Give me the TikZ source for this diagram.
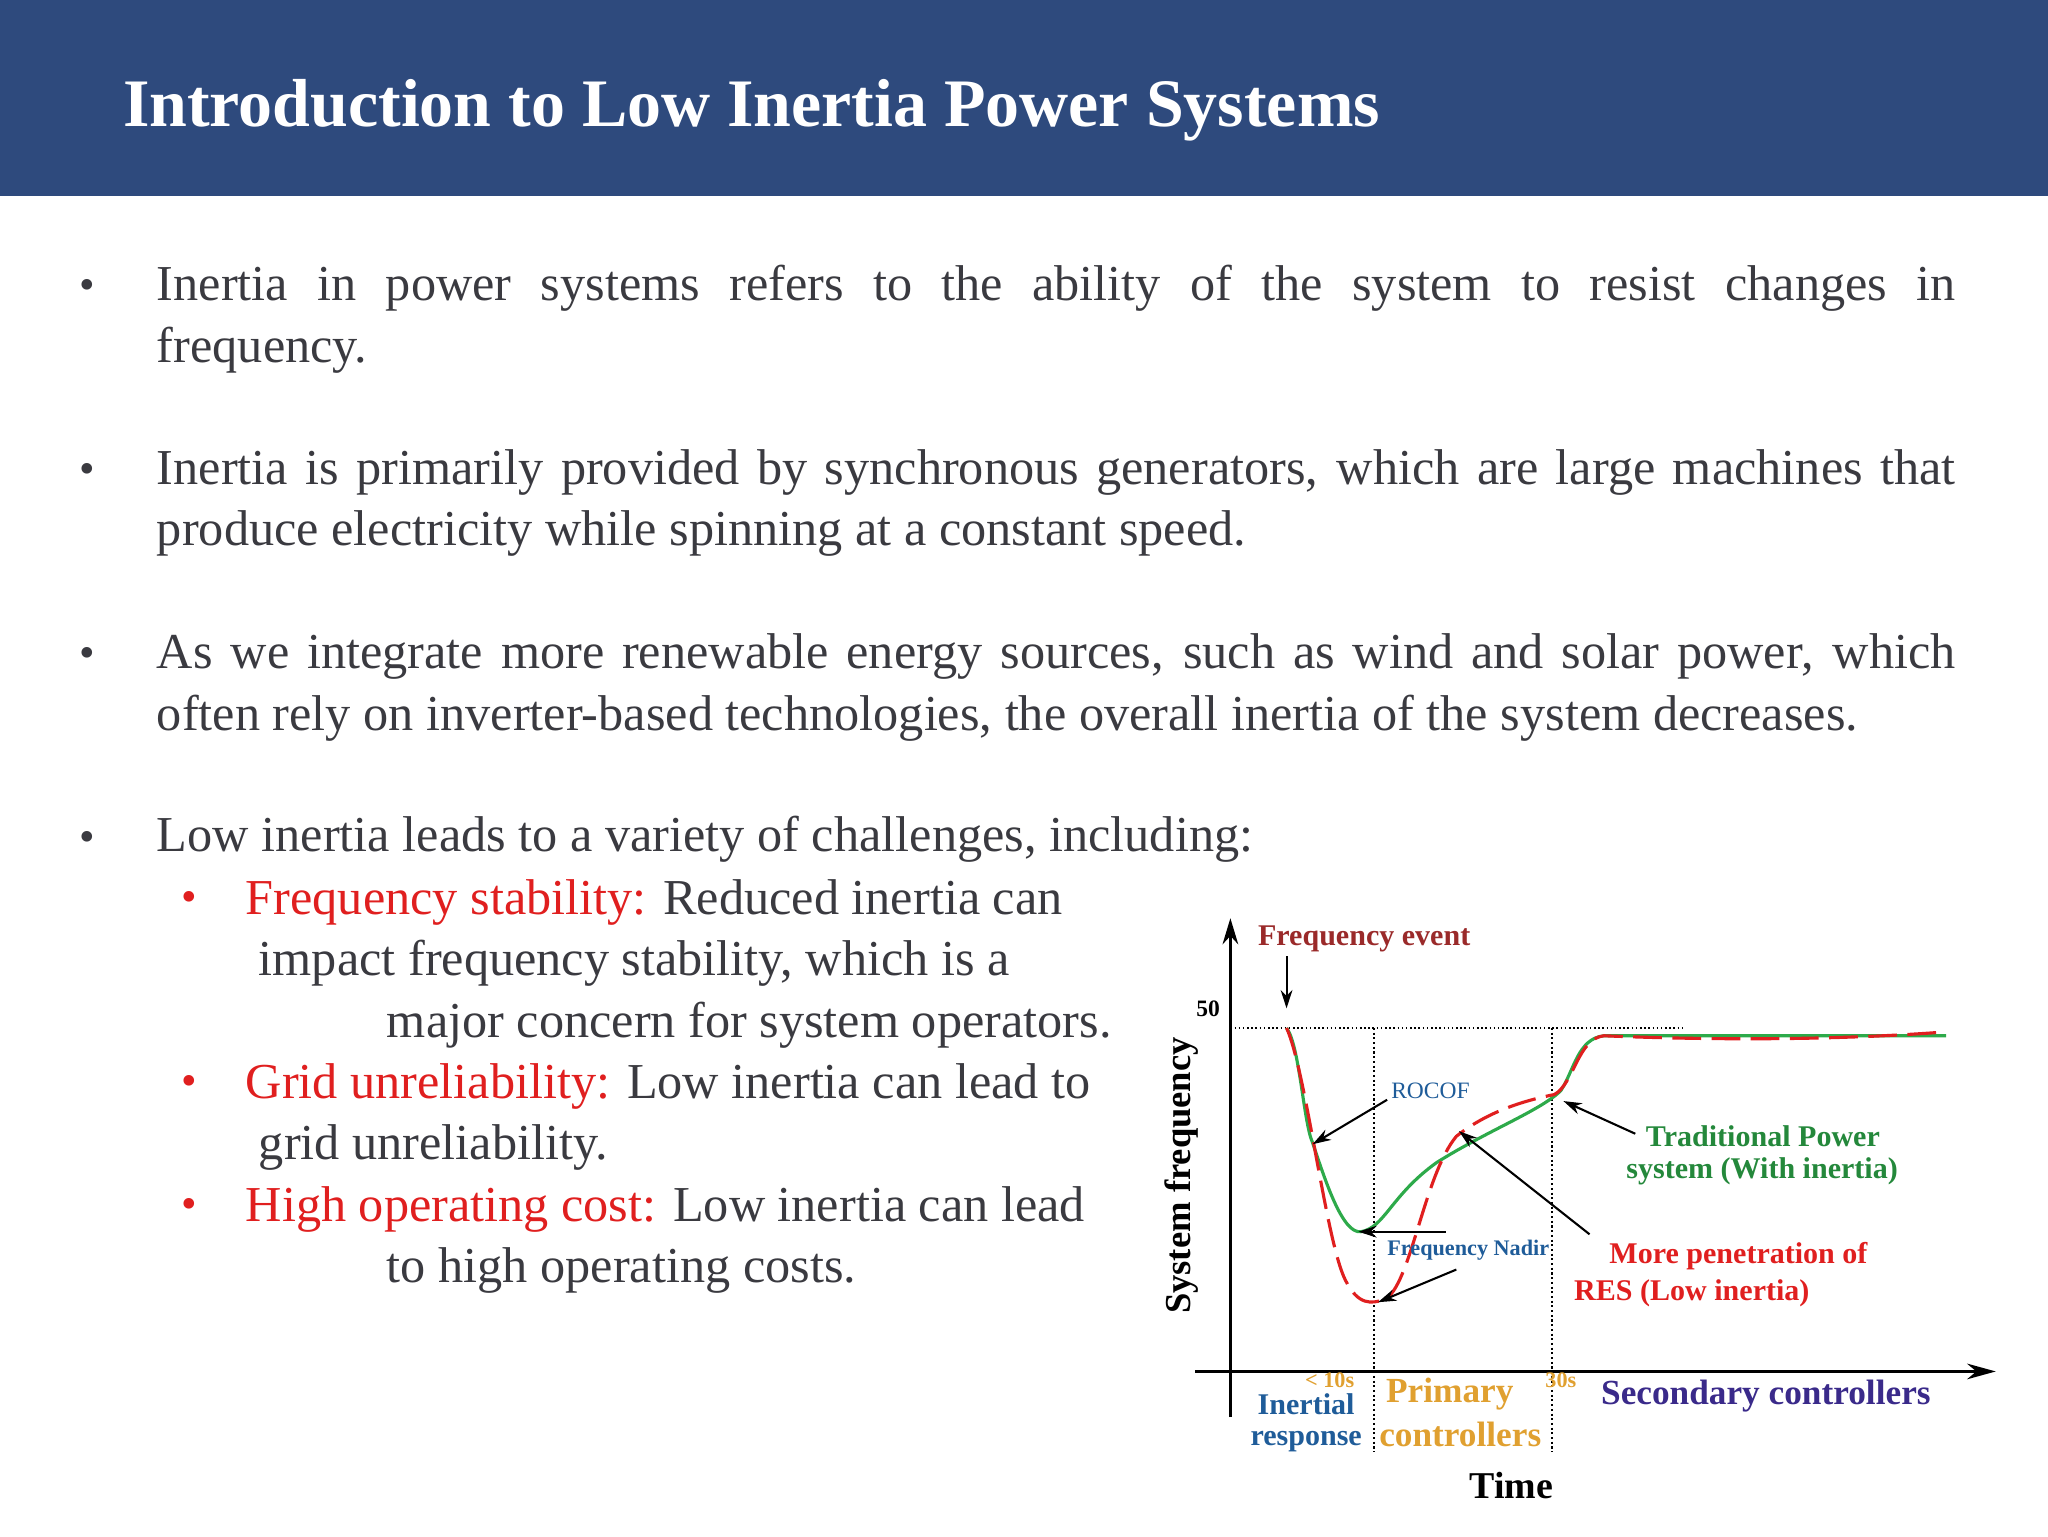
\documentclass[tikz,border=0pt]{standalone}
\usepackage{fontspec}
\setmainfont{Liberation Serif}
\usetikzlibrary{arrows.meta}
\definecolor{band}{HTML}{2E4A7D}
\definecolor{txt}{HTML}{3A3A40}
\definecolor{cgreen}{HTML}{2DAA4A}
\definecolor{cred}{HTML}{E01F1F}
\definecolor{dred}{HTML}{9A2A2A}
\definecolor{cblue}{HTML}{1F5C99}
\definecolor{corange}{HTML}{E0A030}
\definecolor{cpurple}{HTML}{3A2A8A}
\begin{document}
\begin{tikzpicture}[x=1pt,y=-1pt,
  body/.style={anchor=base west,inner sep=0pt,text=txt,font=\fontsize{38.5}{47}\selectfont},
  para/.style={anchor=north west,inner sep=0pt,text=txt,text width=1377pt,align=justify,font=\fontsize{38.5}{47}\selectfont},
  bul/.style={anchor=base,inner sep=0pt,text=txt,font=\fontsize{34}{40}\selectfont},
  lab/.style={inner sep=0pt,font=\fontsize{23}{27}\selectfont\bfseries},
  arr/.style={-{Stealth[length=14pt,width=9pt]},line width=1.6pt,black}]
\useasboundingbox (0,0) rectangle (1568,1176);
\fill[band] (0,0) rectangle (1568,150);
\node[anchor=base west,inner sep=0pt,text=white,font=\fontsize{52}{56}\selectfont\bfseries] (title) at (94,97) {Introduction to Low Inertia Power Systems};
% bullets
\foreach \y/\n in {229/b1,370/b2,511/b3,652/b4}{\node[bul] (\n) at (67,\y) {•};}
\node[para] (t1) at (120,203) {Inertia in power systems refers to the ability of the system to resist changes in\linebreak frequency.};
\node[para] (t2) at (120,344) {Inertia is primarily provided by synchronous generators, which are large machines that\linebreak produce electricity while spinning at a constant speed.};
\node[para] (t3) at (120,485) {As we integrate more renewable energy sources, such as wind and solar power, which\linebreak often rely on inverter-based technologies, the overall inertia of the system decreases.};
\node[body] (t4) at (120,652) {Low inertia leads to a variety of challenges, including:};
\foreach \y/\n in {698/s1,839/s2,933/s3}{\node[bul,text=cred] (\n) at (145,\y) {•};}
\node[body] (u1) at (188,700) {\textcolor{cred}{Frequency stability:} Reduced inertia can};
\node[body] (u2) at (198,747) {impact frequency stability, which is a};
\node[body] (u3) at (296,794) {major concern for system operators.};
\node[body] (u4) at (188,841) {\textcolor{cred}{Grid unreliability:} Low inertia can lead to};
\node[body] (u5) at (198,888) {grid unreliability.};
\node[body] (u6) at (188,935) {\textcolor{cred}{High operating cost:} Low inertia can lead};
\node[body] (u7) at (296,982) {to high operating costs.};
% chart
\coordinate (o) at (942,1050);
\coordinate (ytop) at (942,703);
\coordinate (xl) at (915,1050);
\coordinate (xr) at (1528,1050);
\coordinate (ybot) at (942,1085);
\draw[line width=2.2pt,-{Stealth[length=20pt,width=12pt]}] (ybot) -- (ytop);
\draw[line width=2.2pt,-{Stealth[length=22pt,width=12pt]}] (xl) -- (xr);
\coordinate (f50) at (942,787);
\coordinate (f50r) at (1290,787);
\draw[dotted,line width=1.2pt] (f50) -- (f50r);
\coordinate (v1t) at (1052,787); \coordinate (v1b) at (1052,1112);
\coordinate (v2t) at (1188,787); \coordinate (v2b) at (1188,1112);
\draw[dotted,line width=1.6pt] (v1t) -- (v1b);
\draw[dotted,line width=1.6pt] (v2t) -- (v2b);
\draw[cgreen,line width=2.4pt] (985,787) .. controls (995,800) and (998,860) .. (1005,875)
  .. controls (1015,905) and (1028,945) .. (1042,943)
  .. controls (1060,940) and (1065,915) .. (1100,890)
  .. controls (1140,865) and (1180,850) .. (1195,835)
  .. controls (1205,820) and (1208,795) .. (1228,793) -- (1490,793);
\draw[cred,line width=2.4pt,dash pattern=on 22pt off 8pt] (985,787) .. controls (1000,820) and (1015,950) .. (1030,980)
  .. controls (1040,1000) and (1050,998) .. (1060,995)
  .. controls (1080,985) and (1090,900) .. (1115,870)
  .. controls (1140,850) and (1170,842) .. (1190,838)
  .. controls (1205,830) and (1208,795) .. (1228,793)
  .. controls (1300,796) and (1400,797) .. (1490,790);
\node[lab,text=dred,anchor=west] (fe) at (963,719) {Frequency event};
\coordinate (fea) at (985,732); \coordinate (feb) at (985,772);
\draw[arr] (fea) -- (feb);
\node[lab,text=cblue,anchor=west,font=\fontsize{18}{20}\selectfont] (rocof) at (1065,835) {ROCOF};
\coordinate (ra) at (1062,842); \coordinate (rb) at (1005,876);
\draw[arr] (ra) -- (rb);
\node[lab,text=cblue,anchor=west,font=\fontsize{17}{20}\selectfont\bfseries] (nadir) at (1062,957) {Frequency Nadir};
\coordinate (na) at (1107,943); \coordinate (nb) at (1040,943);
\draw[arr] (na) -- (nb);
\coordinate (nc) at (1115,972); \coordinate (nd) at (1055,997);
\draw[arr] (nc) -- (nd);
\coordinate (ma) at (1217,945); \coordinate (mb) at (1117,866);
\draw[arr] (ma) -- (mb);
\coordinate (ta) at (1252,868); \coordinate (tb) at (1197,843);
\draw[arr] (ta) -- (tb);
\node[lab,text=cgreen!80!black,anchor=west] (trad1) at (1260,870) {Traditional Power};
\node[lab,text=cgreen!80!black,anchor=west] (trad2) at (1245,897) {system (With inertia)};
\node[lab,text=cred,anchor=west] (mp1) at (1232,962) {More penetration of};
\node[lab,text=cred,anchor=west] (mp2) at (1205,990) {RES (Low inertia)};
\node[lab,rotate=90,font=\fontsize{28}{30}\selectfont\bfseries] (sf) at (905,900) {System frequency};
\node[lab,font=\fontsize{18}{20}\selectfont\bfseries] (l50) at (925,772) {50};
\node[lab,text=corange,font=\fontsize{17}{20}\selectfont\bfseries] (t10) at (1018,1057) {< 10s};
\node[lab,text=corange,font=\fontsize{17}{20}\selectfont\bfseries] (t30) at (1195,1057) {30s};
\node[lab,text=cblue,font=\fontsize{23}{30}\selectfont\bfseries] (ir1) at (1000,1075) {Inertial};
\node[lab,text=cblue,font=\fontsize{23}{30}\selectfont\bfseries] (ir2) at (1000,1104) {response};
\node[lab,text=corange,font=\fontsize{27}{31}\selectfont\bfseries] (pc1) at (1110,1067) {Primary};
\node[lab,text=corange,font=\fontsize{27}{31}\selectfont\bfseries] (pc2) at (1118,1098) {controllers};
\node[lab,text=cpurple,font=\fontsize{27}{28}\selectfont\bfseries] (scd) at (1352,1069) {Secondary controllers};
\node[lab,font=\fontsize{29}{30}\selectfont\bfseries] (time) at (1157,1137) {Time};
\end{tikzpicture}
\end{document}
